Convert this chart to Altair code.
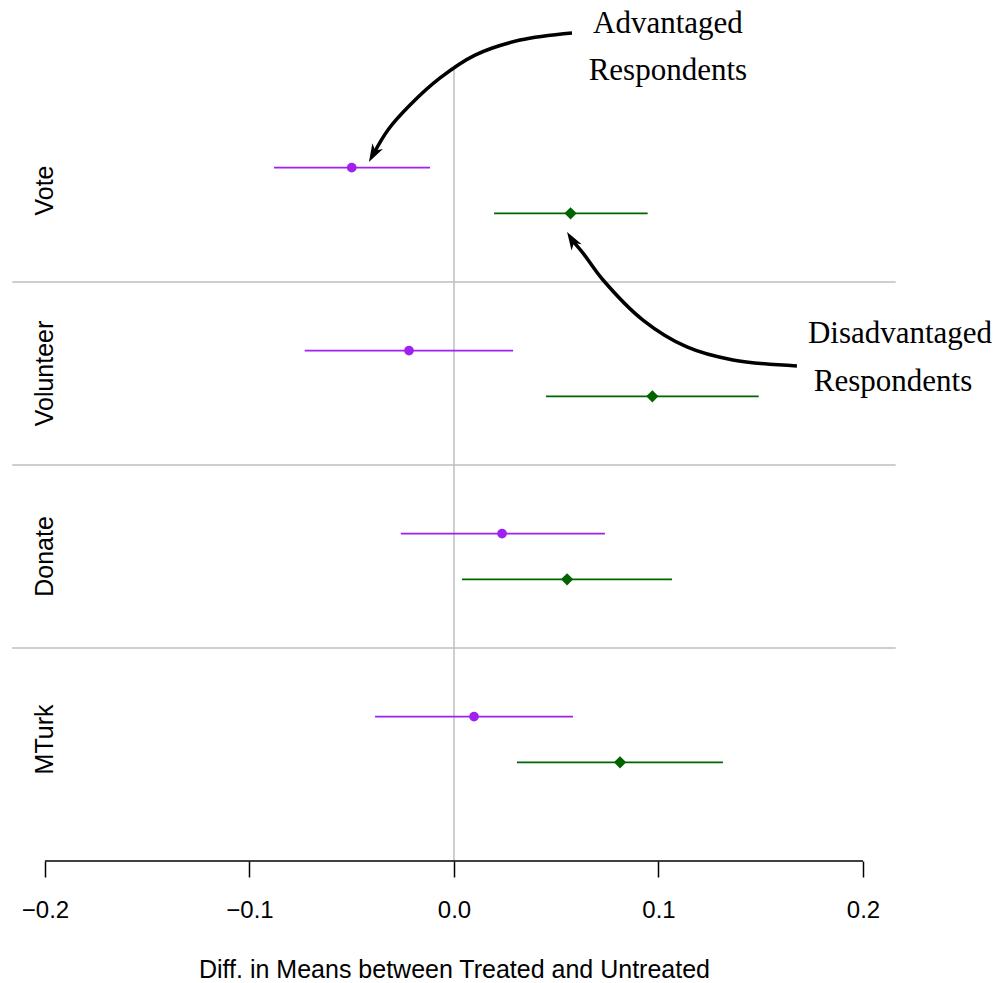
import altair as alt
import pandas as pd

# Outcome measures, top to bottom
outcomes = ["Vote", "Volunteer", "Donate", "MTurk"]

# Difference in means (treated - untreated) with interval bounds
adv_est = [-0.050, -0.022, 0.0235, 0.0098]
adv_lo = [-0.088, -0.073, -0.026, -0.0386]
adv_hi = [-0.0117, 0.0289, 0.0738, 0.0582]

dis_est = [0.0570, 0.0970, 0.0553, 0.0812]
dis_lo = [0.0196, 0.0450, 0.0039, 0.0308]
dis_hi = [0.0947, 0.1490, 0.1066, 0.1315]

groups = ["Advantaged", "Disadvantaged"]
group_colors = ["#A020F0", "#006400"]
group_shapes = ["circle", "diamond"]
group_sizes = [95, 150]
tick_values = [-0.2, -0.1, 0.0, 0.1, 0.2]
x_title = "Diff. in Means between Treated and Untreated"

# Row layout: each outcome occupies one unit band, the two groups sit inside it
row_offset = {"Advantaged": 0.375, "Disadvantaged": 0.625}

rows = []
for i, name in enumerate(outcomes):
    rows.append(dict(outcome=name, group="Advantaged", est=adv_est[i],
                     lo=adv_lo[i], hi=adv_hi[i], pos=i + row_offset["Advantaged"]))
    rows.append(dict(outcome=name, group="Disadvantaged", est=dis_est[i],
                     lo=dis_lo[i], hi=dis_hi[i], pos=i + row_offset["Disadvantaged"]))
est_df = pd.DataFrame(rows)

label_df = pd.DataFrame({"outcome": outcomes,
                         "pos": [i + 0.5 for i in range(len(outcomes))],
                         "x": [-0.2] * len(outcomes)})
sep_df = pd.DataFrame({"pos": [1, 2, 3], "x": [-0.216] * 3, "x2": [0.216] * 3})

# Curved annotation arrows (path points in data units, tip last)
adv_arrow_x = [0.0577, 0.0323, 0.0103, -0.0068, -0.0215, -0.0323, -0.0391]
adv_arrow_y = [-0.361, -0.322, -0.240, -0.115, 0.033, 0.169, 0.295]
dis_arrow_x = [0.1677, 0.1364, 0.1139, 0.0924, 0.0729, 0.0631, 0.0577]
dis_arrow_y = [1.459, 1.426, 1.355, 1.208, 0.989, 0.842, 0.771]

arrow_rows = []
for k, (ax, ay) in enumerate(zip(adv_arrow_x, adv_arrow_y)):
    arrow_rows.append(dict(arrow="adv", i=k, x=ax, y=ay))
for k, (ax, ay) in enumerate(zip(dis_arrow_x, dis_arrow_y)):
    arrow_rows.append(dict(arrow="dis", i=k, x=ax, y=ay))
arrow_df = pd.DataFrame(arrow_rows)

head_df = pd.DataFrame({"x": [-0.0416, 0.0553], "y": [0.344, 0.727], "rot": [209, 328]})

note_df = pd.DataFrame({
    "text": ["Advantaged", "Respondents", "Disadvantaged", "Respondents"],
    "x": [0.1046, 0.1046, 0.2181, 0.2147],
    "y": [-0.361, -0.104, 1.333, 1.596],
})

xscale = alt.Scale(domain=[-0.222, 0.267], nice=False, zero=False)
yscale = alt.Scale(domain=[-0.541, 4.164], reverse=True, nice=False, zero=False)
GREY = "#BEBEBE"

x_axis = alt.Axis(values=tick_values, format=".1f", domain=False, grid=False,
                  ticks=True, tickSize=16, tickWidth=1.5, tickColor="black",
                  labelFontSize=24, labelColor="black", labelPadding=21,
                  labelFont="Liberation Sans", labelFlush=False,
                  titleFont="Liberation Sans", titleFontSize=25,
                  titleFontWeight="normal", titleColor="black", titlePadding=35,
                  titleX=454, titleAlign="center")


def X(field):
    return alt.X(field, scale=xscale, axis=x_axis, title=x_title)


def Y(field):
    return alt.Y(field, scale=yscale, axis=None)


zero_line = alt.Chart(pd.DataFrame({"x": [0.0], "y": [-0.169], "y2": [4.164]})).mark_rule(
    color=GREY, strokeWidth=1.5
).encode(x=X("x:Q"), y=Y("y:Q"), y2="y2:Q")

separators = alt.Chart(sep_df).mark_rule(color=GREY, strokeWidth=1.5).encode(
    x=X("x:Q"), x2="x2:Q", y=Y("pos:Q"),
)

axis_line = alt.Chart(pd.DataFrame({"x": [-0.2], "x2": [0.2], "y": [4.164]})).mark_rule(
    color="black", strokeWidth=1.5
).encode(x=X("x:Q"), x2="x2:Q", y=Y("y:Q"))

color_enc = alt.Color("group:N", scale=alt.Scale(domain=groups, range=group_colors), legend=None)

intervals = alt.Chart(est_df).mark_rule(strokeWidth=1.8).encode(
    x=X("lo:Q"), x2="hi:Q", y=Y("pos:Q"), color=color_enc,
)

points = alt.Chart(est_df).mark_point(filled=True, opacity=1).encode(
    x=X("est:Q"),
    y=Y("pos:Q"),
    color=color_enc,
    shape=alt.Shape("group:N", scale=alt.Scale(domain=groups, range=group_shapes), legend=None),
    size=alt.Size("group:N", scale=alt.Scale(domain=groups, range=group_sizes), legend=None),
)

labels = alt.Chart(label_df).mark_text(
    angle=270, align="center", baseline="middle", fontSize=25,
    font="Liberation Sans", color="black"
).encode(x=X("x:Q"), y=Y("pos:Q"), text="outcome:N")

arrows = alt.Chart(arrow_df).mark_line(
    color="black", strokeWidth=3.5, interpolate="catmull-rom"
).encode(x=X("x:Q"), y=Y("y:Q"), detail="arrow:N", order="i:Q")

ARROW_HEAD = "M0,0 L0.6,1.8 L0,1.3 L-0.6,1.8 Z"
heads = alt.Chart(head_df).mark_point(
    shape=ARROW_HEAD, filled=True, size=400, color="black", opacity=1, strokeWidth=0
).encode(x=X("x:Q"), y=Y("y:Q"), angle=alt.Angle("rot:Q", scale=None))

notes = alt.Chart(note_df).mark_text(
    font="Liberation Serif", fontSize=31, align="center", baseline="alphabetic", color="black"
).encode(x=X("x:Q"), y=Y("y:Q"), text="text:N")

chart = alt.layer(
    zero_line, separators, axis_line, intervals, points, labels, arrows, heads, notes
).properties(
    width=1000, height=861, padding=0, background="white"
).configure_view(stroke=None)

chart.save("out.html", embed_options={"renderer": "svg", "actions": False})
